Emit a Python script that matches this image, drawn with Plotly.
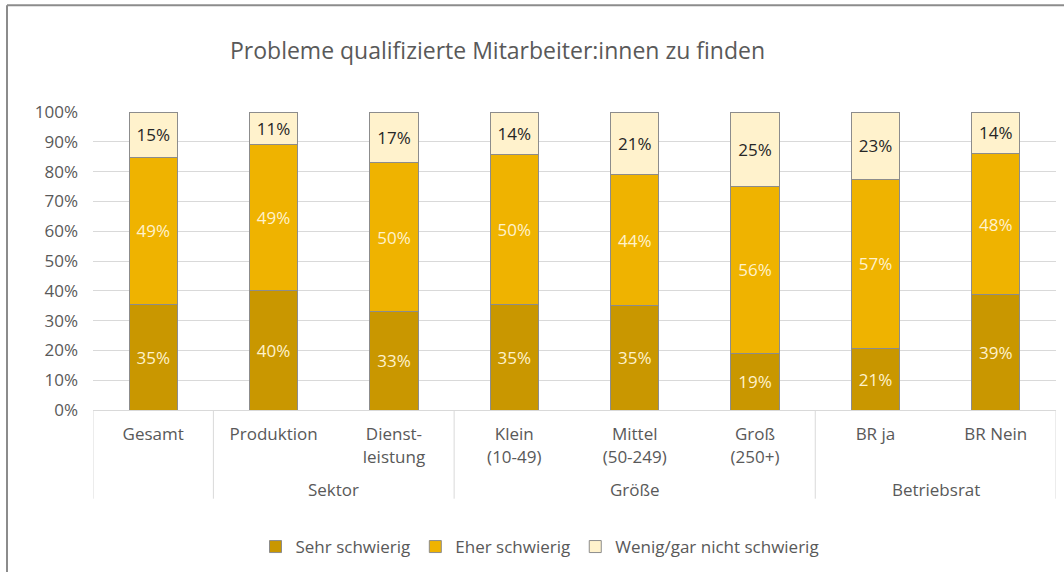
import plotly.graph_objects as go

# Survey results: difficulty finding qualified staff, by group
categories = ["Gesamt", "Produktion", "Dienst-<br>leistung", "Klein<br>(10-49)",
              "Mittel<br>(50-249)", "Groß<br>(250+)", "BR ja", "BR Nein"]
groups = ["Sektor", "Größe", "Betriebsrat"]
sehr_schwierig = [35, 40, 33, 35, 35, 19, 21, 39]
eher_schwierig = [49, 49, 50, 50, 44, 56, 57, 48]
wenig_nicht = [15, 11, 17, 14, 21, 25, 23, 14]
y_ticks = [0, 10, 20, 30, 40, 50, 60, 70, 80, 90, 100]

FONT = "Open Sans"
GREY = "#595959"
GRID = "#d9d9d9"

# plot area in pixels (left, right, top, bottom)
L, R, T, B = 93, 1056, 112, 411
W_FIG, H_FIG = 1064, 572
PW, PH = R - L, B - T


def px_x(px):
    return (px - L) / PW


def px_y(py):
    return (B - py) / PH


xs = list(range(len(categories)))

series = [
    ("Sehr schwierig", sehr_schwierig, "#c99700", "#fff2cc"),
    ("Eher schwierig", eher_schwierig, "#efb300", "#fff2cc"),
    ("Wenig/gar nicht schwierig", wenig_nicht, "#fff2cc", "#262626"),
]

fig = go.Figure()
for name, vals, color, tcolor in series:
    fig.add_trace(go.Bar(
        x=xs, y=vals, name=name,
        marker=dict(color=color, line=dict(color="#8c8c8c", width=1)),
        width=0.4,
        text=[f"{v}%" for v in vals],
        texttemplate="%{text}",
        textposition="inside",
        insidetextanchor="middle",
        textangle=0,
        constraintext="none",
        textfont=dict(family=FONT, size=17, color=tcolor),
        hovertemplate=name + ": %{text}<extra></extra>",
    ))

shapes = []
# category dividers below the axis
for xv in [-0.5, 0.5, 2.5, 5.5, 7.5]:
    shapes.append(dict(type="line", xref="x", yref="paper",
                       x0=xv, x1=xv, y0=0, y1=px_y(500),
                       line=dict(color=GRID, width=1)))
# outer frame (top and left edges)
shapes.append(dict(type="line", xref="paper", yref="paper",
                   x0=px_x(7), x1=px_x(W_FIG + 5), y0=px_y(5), y1=px_y(5),
                   line=dict(color="#8c8c8c", width=2)))
shapes.append(dict(type="line", xref="paper", yref="paper",
                   x0=px_x(7), x1=px_x(7), y0=px_y(5), y1=px_y(H_FIG + 5),
                   line=dict(color="#8c8c8c", width=2)))

annotations = []
for label, center in zip(groups, [1.5, 4, 6.5]):
    annotations.append(dict(text=label, x=center, xref="x", y=px_y(491), yref="paper",
                            showarrow=False, xanchor="center", yanchor="middle",
                            font=dict(family=FONT, size=17, color=GREY)))
annotations.append(dict(text="Probleme qualifizierte Mitarbeiter:innen zu finden",
                        x=px_x(497), xref="paper", y=px_y(50), yref="paper",
                        showarrow=False, xanchor="center", yanchor="middle",
                        font=dict(family=FONT, size=23, color=GREY)))

fig.update_layout(
    barmode="stack",
    barnorm="percent",
    width=W_FIG, height=H_FIG,
    margin=dict(l=L, r=W_FIG - R, t=T, b=H_FIG - B),
    paper_bgcolor="white", plot_bgcolor="white",
    font=dict(family=FONT, size=17, color=GREY),
    showlegend=True,
    legend=dict(orientation="h", x=px_x(540), xanchor="center",
                y=px_y(547), yanchor="middle",
                font=dict(family=FONT, size=17, color=GREY),
                itemwidth=30, traceorder="normal"),
    shapes=shapes,
    annotations=annotations,
    xaxis=dict(tickmode="array", tickvals=xs, ticktext=categories,
               range=[-0.5, 7.5], showgrid=False, showline=True,
               linecolor=GRID, linewidth=1, ticks="", zeroline=False,
               tickfont=dict(family=FONT, size=17, color=GREY),
               ticklabelstandoff=9),
    yaxis=dict(range=[0, 100], tickmode="array", tickvals=y_ticks,
               ticktext=[f"{v}%" for v in y_ticks],
               showgrid=True, gridcolor=GRID, gridwidth=1,
               zeroline=False, showline=False, ticks="",
               tickfont=dict(family=FONT, size=17, color=GREY),
               ticklabelstandoff=14),
)

fig.write_html("out.html")
